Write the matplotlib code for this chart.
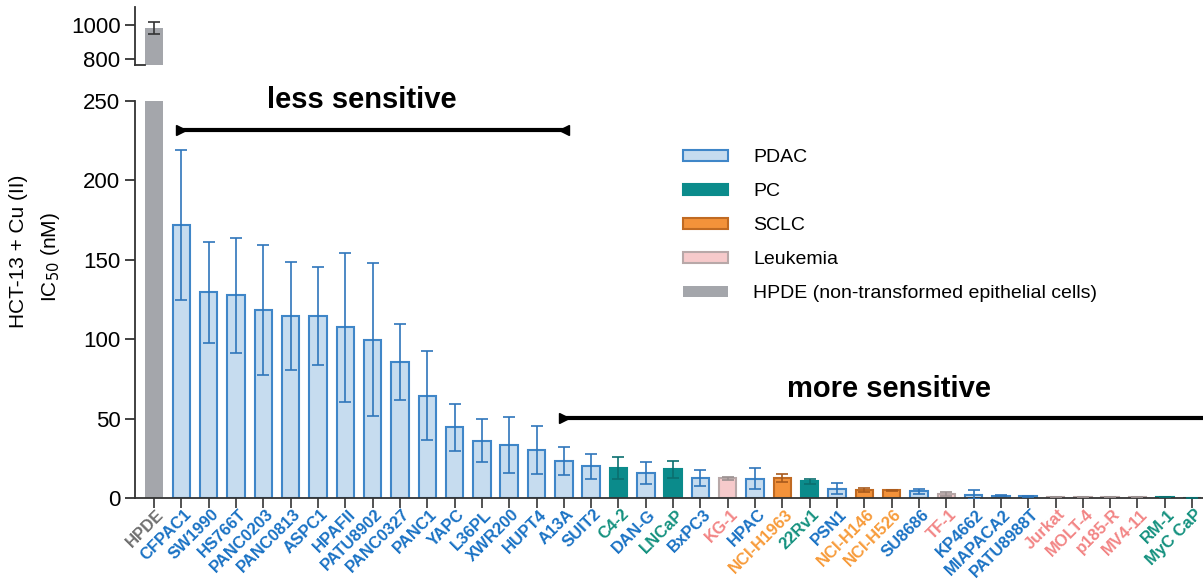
""" IC50 of HCT-13 + Cu(II) across cell lines, split y-axis bar chart.
"""
import matplotlib
matplotlib.use('Agg')
import matplotlib.pyplot as plt
from matplotlib.patches import Patch
from matplotlib.transforms import ScaledTranslation

plt.rcParams['font.family'] = ['Liberation Sans', 'DejaVu Sans']

CELL_LINES = ['HPDE', 'CFPAC1', 'SW1990', 'HS766T', 'PANC0203', 'PANC0813',
              'ASPC1', 'HPAFII', 'PATU8902', 'PANC0327', 'PANC1', 'YAPC',
              'L36PL', 'XWR200', 'HUPT4', 'A13A', 'SUIT2', 'C4-2', 'DAN-G',
              'LNCaP', 'BxPC3', 'KG-1', 'HPAC', 'NCI-H1963', '22Rv1', 'PSN1',
              'NCI-H146', 'NCI-H526', 'SU8686', 'TF-1', 'KP4662', 'MIAPACA2',
              'PATU8988T', 'Jurkat', 'MOLT-4', 'p185-R', 'MV4-11', 'RM-1',
              'MyC CaP']
GROUPS = ['HPDE'] + ['PDAC'] * 16 + ['PC', 'PDAC', 'PC', 'PDAC', 'Leukemia',
          'PDAC', 'SCLC', 'PC', 'PDAC', 'SCLC', 'SCLC', 'PDAC', 'Leukemia',
          'PDAC', 'PDAC', 'PDAC', 'Leukemia', 'Leukemia', 'Leukemia',
          'Leukemia', 'PC', 'PC']
IC50 = [980, 172, 129.5, 127.6, 118.4, 114.6, 114.6, 107.5, 99.7, 85.8, 64.4,
        44.5, 36.1, 33.4, 30.2, 23.3, 20.0, 18.7, 15.7, 18.0, 12.4, 12.4, 12.2,
        12.4, 10.5, 5.9, 5.2, 4.8, 4.1, 2.7, 2.0, 1.5, 1.0, 0.6, 0.6, 0.6, 0.6,
        0.6, 0.2]
IC50_SD = [35, 47, 32, 36, 41, 34, 31, 47, 48, 24, 28, 15, 13.5, 17.5, 15, 9,
           8, 7, 7, 5.5, 5, 1, 6.5, 2.4, 1.5, 3.5, 1.3, 0.5, 1.4, 1.3, 2.8, 0.5,
           0.3, 0.2, 0.2, 0.2, 0.2, 0.2, 0.1]
LEGEND_GROUPS = ['PDAC', 'PC', 'SCLC', 'Leukemia', 'HPDE']
LEGEND_LABELS = ['PDAC', 'PC', 'SCLC', 'Leukemia',
                 'HPDE (non-transformed epithelial cells)']

# face, edge, error bar and tick label colours per group
STYLE = {
    'PDAC': ('#c6dcef', '#3f86c8', '#2f76bb', '#1a72c4'),
    'PC': ('#0b8b8b', '#0b8b8b', '#0b6f6f', '#14917f'),
    'SCLC': ('#f3923a', '#c06a22', '#a85a1c', '#f79b3a'),
    'Leukemia': ('#f6cacb', '#b8a8a8', '#9a9090', '#f28585'),
    'HPDE': ('#a4a6ab', '#a4a6ab', '#333333', '#6e6e6e'),
}

x = list(range(len(CELL_LINES)))
XLIM = (-0.7, 38.4)
WIDTH = 0.64

fig = plt.figure(figsize=(12.03, 5.79), dpi=100)
ax = fig.add_axes([135 / 1203, 1 - 498 / 579, 1068 / 1203, 397 / 579])
ax_top = fig.add_axes([135 / 1203, 1 - 65 / 579, 1068 / 1203, 58 / 579])

# Bars and error bars, one at a time so each gets its group colours
for i, (val, sd, grp) in enumerate(zip(IC50, IC50_SD, GROUPS)):
    face, edge, ecol, _ = STYLE[grp]
    lw = 0 if grp == 'HPDE' else 1.5
    for a in (ax, ax_top):
        a.bar(i, val, WIDTH, color=face, edgecolor=edge, linewidth=lw,
              zorder=2)
    if grp == 'HPDE':
        ax_top.errorbar(i, val, yerr=sd, fmt='none', ecolor=ecol,
                        elinewidth=1.2, capsize=4, capthick=1.2, zorder=3)
    else:
        ax.errorbar(i, val, yerr=sd, fmt='none', ecolor=ecol, elinewidth=1.2,
                    capsize=4, capthick=1.2, zorder=3)

# Lower panel
ax.set_xlim(XLIM)
ax.set_ylim(0, 250)
ax.set_yticks([0, 50, 100, 150, 200, 250])
ax.tick_params(axis='y', direction='out', length=7, width=1.3,
               color='#333333', labelsize=16, labelcolor='black')
ax.tick_params(axis='x', direction='out', length=7, width=1.3,
               color='#444444', pad=3)
ax.set_xticks(x)
ax.set_xticklabels(CELL_LINES, rotation=45, ha='right', va='center',
                   rotation_mode='anchor', fontsize=12, fontweight='bold')
shift = ScaledTranslation(5.5 / 72, 0, fig.dpi_scale_trans)
for lbl, grp in zip(ax.get_xticklabels(), GROUPS):
    lbl.set_color(STYLE[grp][3])
    lbl.set_transform(lbl.get_transform() + shift)
for side in ['top', 'right']:
    ax.spines[side].set_visible(False)
for side in ['left', 'bottom']:
    ax.spines[side].set_color('#333333')
    ax.spines[side].set_linewidth(1.3)

# Upper panel (broken axis)
ax_top.set_xlim(XLIM)
ax_top.set_ylim(765, 1105)
ax_top.set_yticks([800, 1000])
ax_top.set_xticks([])
for side in ['top', 'right']:
    ax_top.spines[side].set_visible(False)
ax_top.spines['bottom'].set_bounds(XLIM[0], -WIDTH / 2)
for side in ['left', 'bottom']:
    ax_top.spines[side].set_color('#333333')
    ax_top.spines[side].set_linewidth(1.3)
ax_top.tick_params(axis='y', direction='out', length=7, width=1.3,
                   color='#333333', labelsize=16, labelcolor='black')

# Sensitivity ranges
ax.plot([1, 15], [232, 232], color='black', lw=3, clip_on=False, zorder=4)
ax.plot([1], [232], marker='>', color='black', ms=7, clip_on=False)
ax.plot([15], [232], marker='<', color='black', ms=7, clip_on=False)
ax.text(7.6, 250.6, 'less sensitive', ha='center', va='center', fontsize=21,
        fontweight='bold')
ax.plot([15, XLIM[1] + 1], [50.4, 50.4], color='black', lw=3, zorder=4)
ax.plot([15], [50.4], marker='>', color='black', ms=7, clip_on=False)
ax.text(26.9, 68.6, 'more sensitive', ha='center', va='center', fontsize=21,
        fontweight='bold')

# Y label, two lines
fig.text(19 / 1203, 1 - 251 / 579, 'HCT-13 + Cu (II)', rotation=90,
         ha='center', va='center', fontsize=15)
fig.text(50 / 1203, 1 - 257 / 579, 'IC$_{50}$ (nM)', rotation=90,
         ha='center', va='center', fontsize=15)

# Legend
handles = [Patch(facecolor=STYLE[g][0], edgecolor=STYLE[g][1],
                 linewidth=0 if g == 'HPDE' else 1.5) for g in LEGEND_GROUPS]
fig.legend(handles, LEGEND_LABELS, loc='upper left',
           bbox_to_anchor=(683 / 1203, 1 - 149 / 579), frameon=False,
           fontsize=14, handlelength=2.3, handleheight=0.5,
           handletextpad=1.3, labelspacing=0.88, borderpad=0,
           borderaxespad=0)

plt.savefig('out.png', dpi=100)
